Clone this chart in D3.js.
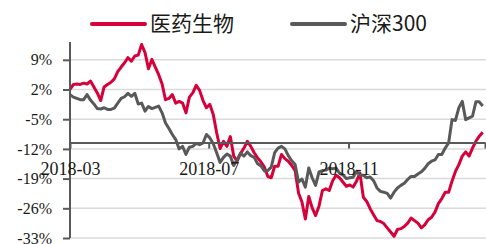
<!DOCTYPE html>
<html lang="zh">
<head>
<meta charset="utf-8">
<title>医药生物 vs 沪深300</title>
<script src="https://d3js.org/d3.v7.min.js"></script>
<style type="text/css">

  body {
    margin: 0;
    background: #fff;
  }

  .tick text {
    font-family: "Liberation Serif", "Times New Roman", serif;
    fill: #1a1a1a;
  }

  .legend text {
    font-family: "Noto Sans CJK SC", sans-serif;
    font-size: 21px;
    fill: #1a1a1a;
  }

</style>
</head>
<body>

<div id="vis"></div>

<script type="text/javascript">

/* Data */
/* ==== */

// one reading every 3 calendar days, starting 2018-03-01
var startDate = new Date(2018, 2, 1);
var stepDays = 3;

var seriesNames = ['医药生物', '沪深300'];

var pharma = [
  2.0, 3.2, 3.3, 3.2, 3.5, 3.3, 4.0, 2.6, 1.2, -0.6,
  2.6, 3.2, 3.7, 4.5, 6.2, 7.3, 8.3, 9.5, 8.7, 9.9,
  10.1, 12.6, 10.7, 6.9, 9.1, 7.3, 5.5, 3.3, -0.4, -0.1,
  0.8, -1.2, -0.8, -1.2, -3.5, 0.2, 1.2, 3.0, 1.8, -0.6,
  -2.3, -1.5, -3.9, -8.2, -11.9, -10.2, -11.4, -9.1, -13.7, -14.9,
  -13.1, -11.8, -10.2, -11.4, -12.9, -14.1, -15.1, -16.3, -18.5, -18.8,
  -16.1, -16.1, -13.3, -14.3, -14.9, -15.9, -17.1, -22.4, -24.5, -28.5,
  -23.2, -25.9, -27.7, -25.5, -21.8, -21.4, -21.8, -19.5, -18.2, -18.8,
  -19.8, -20.8, -20.5, -21.0, -19.6, -17.7, -23.4, -24.4, -26.1, -27.5,
  -28.9, -29.1, -29.6, -30.6, -31.6, -32.6, -31.0, -30.8, -30.3, -29.5,
  -28.3, -28.9, -29.5, -30.6, -29.9, -28.7, -28.1, -26.9, -24.9, -23.7,
  -22.2, -22.2, -19.6, -17.3, -15.7, -13.7, -12.7, -13.7, -11.8, -10.2,
  -9.0, -8.1
];

var hs300 = [
  0.8, 0.2, -0.1, -0.4, -0.4, 0.8, -0.5, -1.4, -2.5, -2.6,
  -2.3, -2.7, -2.7, -2.4, -1.2, -0.1, 0.3, 1.1, 0.4, 1.1,
  -1.4, -1.2, -3.1, -2.0, -2.5, -2.2, -1.9, -3.5, -5.9, -7.2,
  -8.6, -9.8, -12.0, -11.4, -13.3, -11.6, -11.4, -10.7, -11.0, -10.6,
  -8.6, -9.4, -10.8, -12.9, -15.2, -14.0, -13.2, -13.7, -15.9, -14.5,
  -13.0, -13.7, -12.7, -13.6, -14.0, -15.5, -16.0, -17.2, -17.1, -16.3,
  -12.9, -11.8, -11.4, -12.0, -13.6, -14.8, -15.7, -19.8, -19.1, -21.0,
  -16.5, -18.8, -20.6, -17.4, -17.1, -17.0, -16.5, -16.7, -16.5, -17.7,
  -18.1, -19.0, -18.8, -18.7, -17.3, -18.2, -18.2, -18.8, -18.6, -19.5,
  -21.2, -22.0, -22.2, -22.5, -23.6, -22.2, -21.2, -20.6, -20.1, -19.2,
  -18.5, -18.5, -17.9, -17.4, -16.6, -15.5, -14.9, -14.6, -13.3, -13.3,
  -11.8, -10.6, -5.1, -5.3, -2.3, -0.8, -5.1, -4.7, -4.3, -0.9,
  -0.9, -1.9
];

var yTicks = [9, 2, -5, -12, -19, -26, -33];
var xTickLabels = ['2018-03', '2018-07', '2018-11', '2019-03'];


/* Set up */
/* ====== */

var width = 486,
    height = 244;

var plot = { left: 70, right: 485, top: 42, bottom: 238 };

var colours = ['#d6003a', '#595959'];

var svg = d3.select('#vis')
  .append('svg')
    .attr('width', width)
    .attr('height', height);

// build rows for each series
var parseMonth = d3.timeParse('%Y-%m');

function rows(values) {
  return values.map(function(v, i) {
    return { date: d3.timeDay.offset(startDate, i * stepDays), value: v };
  });
}

var series = [rows(pharma), rows(hs300)];


/* Scales */
/* ====== */

var xScale = d3.scaleTime()
  .domain([parseMonth(xTickLabels[0]), parseMonth(xTickLabels[xTickLabels.length - 1])])
  .range([plot.left, plot.right]);

var yScale = d3.scaleLinear()
  .domain([-33, 13.2])
  .range([plot.bottom, plot.top]);

// the category axis crosses a little above the -12% line
var xAxisAt = -10.5;


/* Grid */
/* ---- */

svg.append('g')
    .attr('class', 'grid')
  .selectAll('line')
  .data(yTicks)
  .enter()
  .append('line')
    .attr('x1', plot.left)
    .attr('x2', width)
    .attr('y1', function(d) { return yScale(d); })
    .attr('y2', function(d) { return yScale(d); })
    .style('stroke', '#dadada')
    .style('stroke-width', 1.5);


/* Lines */
/* ----- */

var line = d3.line()
  .x(function(d) { return xScale(d.date); })
  .y(function(d) { return yScale(d.value); });

svg.append('g')
    .attr('class', 'lines')
  .selectAll('path')
  .data(series)
  .enter()
  .append('path')
    .attr('d', line)
    .style('fill', 'none')
    .style('stroke', function(d, i) { return colours[i]; })
    .style('stroke-width', 3)
    .style('stroke-linejoin', 'round');

// grey on top of red
svg.select('.lines').selectAll('path').filter(function(d, i) { return i === 1; }).raise();


/* Axes */
/* ---- */

var yAxis = d3.axisLeft(yScale)
  .tickValues(yTicks)
  .tickSize(7)
  .tickSizeOuter(0)
  .tickPadding(11)
  .tickFormat(function(d) { return d + '%'; });

var yAxisDraw = svg.append('g')
    .attr('class', 'y axis')
    .attr('transform', 'translate(' + plot.left + ',0)')
    .call(yAxis);

yAxisDraw.select('.domain')
  .attr('d', 'M0,' + plot.top + 'V' + plot.bottom);

var xAxis = d3.axisBottom(xScale)
  .tickValues(xTickLabels.map(parseMonth))
  .tickSize(6)
  .tickSizeOuter(0)
  .tickPadding(14)
  .tickFormat(function(d, i) { return i < xTickLabels.length - 1 ? xTickLabels[i] : ''; });

var xAxisDraw = svg.append('g')
    .attr('class', 'x axis')
    .attr('transform', 'translate(0,' + yScale(xAxisAt) + ')')
    .call(xAxis);

svg.selectAll('.axis .domain, .axis line')
  .style('stroke', '#595959')
  .style('stroke-width', 2);

yAxisDraw.selectAll('text').style('font-size', '16px');
xAxisDraw.selectAll('text').style('font-size', '18px');


/* Legend */
/* ------ */

var legendX = [92, 292];

var legend = svg.append('g')
    .attr('class', 'legend')
  .selectAll('g')
  .data(seriesNames)
  .enter()
  .append('g')
    .attr('transform', function(d, i) { return 'translate(' + legendX[i] + ',24)'; });

legend.append('line')
    .attr('x1', 0)
    .attr('x2', 53)
    .style('stroke', function(d, i) { return colours[i]; })
    .style('stroke-width', 4)
    .style('stroke-linecap', 'round');

legend.append('text')
    .attr('x', 58)
    .attr('dy', '0.35em')
    .text(function(d) { return d; });

</script>

</body>
</html>
